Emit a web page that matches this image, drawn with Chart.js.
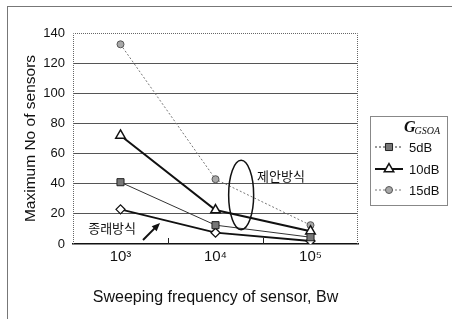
<!DOCTYPE html>
<html>
<head>
<meta charset="utf-8">
<script src="https://cdn.jsdelivr.net/npm/chart.js@4"></script>
<style>
  html, body { margin: 0; padding: 0; background: #fff; }
  #wrap { position: relative; width: 452px; height: 319px; }
  #frame { position: absolute; left: 7px; top: 6px; right: 0; bottom: 0;
           border-left: 1px solid #777; border-top: 1px solid #777; }
  canvas { position: absolute; left: 0; top: 0; }
</style>
</head>
<body>
<div id="wrap">
  <div id="frame"></div>
  <canvas id="c" width="452" height="319"></canvas>
</div>
<script>
// ---------- Data ----------
const categories = ["10³", "10⁴", "10⁵"];
const yTicks = [0, 20, 40, 60, 80, 100, 120, 140];
const gain5 = [41, 12.5, 4.5];
const gain10 = [72, 22.5, 8.5];
const gain15 = [132.5, 43, 12.5];
const conventional = [23, 7.5, 2];
const legendTitle = "G";
const legendSub = "GSOA";
const proposedLabel = "제안방식";
const conventionalLabel = "종래방식";

const FONT = "'Liberation Sans', Arial, sans-serif";
const KFONT = "'Noto Sans CJK KR', sans-serif";

// ---------- Extra drawing: plot border, legend, annotations ----------
const decor = {
  id: "decor",
  beforeDatasetsDraw(chart) {
    const { ctx, chartArea: a, scales: { x } } = chart;
    ctx.save();
    // dotted plot border (left, top, right)
    ctx.strokeStyle = "#666";
    ctx.lineWidth = 1;
    ctx.setLineDash([1, 1]);
    ctx.beginPath();
    ctx.moveTo(a.left + 0.5, a.bottom);
    ctx.lineTo(a.left + 0.5, a.top + 0.5);
    ctx.lineTo(a.right - 0.5, a.top + 0.5);
    ctx.lineTo(a.right - 0.5, a.bottom);
    ctx.stroke();
    ctx.setLineDash([]);
    // inside category ticks on bottom axis
    ctx.strokeStyle = "#222";
    for (let i = 0; i < categories.length - 1; i++) {
      const px = Math.round((x.getPixelForTick(i) + x.getPixelForTick(i + 1)) / 2) + 0.5;
      ctx.beginPath();
      ctx.moveTo(px, a.bottom);
      ctx.lineTo(px, a.bottom - 6);
      ctx.stroke();
    }
    ctx.restore();
  },
  afterDraw(chart) {
    const { ctx, scales: { x, y } } = chart;
    ctx.save();
    // ellipse around proposed points
    ctx.strokeStyle = "#111";
    ctx.lineWidth = 1.5;
    const ex = x.getPixelForValue(1.27), ey = y.getPixelForValue(32.5);
    const ry = (y.getPixelForValue(9) - y.getPixelForValue(55)) / 2;
    ctx.beginPath();
    ctx.ellipse(ex, ey, 12.5, ry, 0, 0, Math.PI * 2);
    ctx.stroke();
    // labels
    ctx.fillStyle = "#111";
    ctx.font = "13px " + KFONT;
    ctx.textBaseline = "middle";
    ctx.textAlign = "left";
    ctx.fillText(proposedLabel, x.getPixelForValue(1.437), y.getPixelForValue(45));
    ctx.fillText(conventionalLabel, x.getPixelForValue(-0.34), y.getPixelForValue(10.6));
    // arrow
    const x1 = x.getPixelForValue(0.237), y1 = y.getPixelForValue(2.7);
    const x2 = x.getPixelForValue(0.416), y2 = y.getPixelForValue(14);
    ctx.lineWidth = 2;
    ctx.beginPath();
    ctx.moveTo(x1, y1);
    ctx.lineTo(x2 - 4, y2 + 4);
    ctx.stroke();
    const ang = Math.atan2(y2 - y1, x2 - x1);
    ctx.beginPath();
    ctx.moveTo(x2, y2);
    ctx.lineTo(x2 - 9 * Math.cos(ang - 0.4), y2 - 9 * Math.sin(ang - 0.4));
    ctx.lineTo(x2 - 9 * Math.cos(ang + 0.4), y2 - 9 * Math.sin(ang + 0.4));
    ctx.closePath();
    ctx.fill();

    // legend box
    const lx = 370, ly = 116, lw = 77, lh = 89;
    ctx.lineWidth = 1;
    ctx.strokeStyle = "#888";
    ctx.strokeRect(lx + 0.5, ly + 0.5, lw, lh);
    ctx.fillStyle = "#111";
    ctx.textAlign = "left";
    ctx.font = "italic bold 16px 'Liberation Serif', serif";
    ctx.fillText(legendTitle, 404, 128);
    const gw = ctx.measureText(legendTitle).width;
    ctx.font = "italic 10px 'Liberation Serif', serif";
    ctx.fillText(legendSub, 404 + gw - 1, 131);
    const rowsY = [147, 169, 190];
    chart.data.datasets.slice(0, 3).forEach((ds, i) => {
      const ry2 = rowsY[i];
      ctx.strokeStyle = ds.borderColor;
      ctx.lineWidth = ds.borderWidth;
      ctx.setLineDash(ds.legendDash || []);
      ctx.beginPath();
      ctx.moveTo(375, ry2);
      ctx.lineTo(403, ry2);
      ctx.stroke();
      ctx.setLineDash([]);
      ctx.fillStyle = ds.pointBackgroundColor;
      ctx.strokeStyle = ds.pointBorderColor;
      ctx.lineWidth = ds.pointBorderWidth;
      Chart.helpers.drawPoint(ctx, {
        pointStyle: ds.pointStyle, radius: ds.pointRadius, rotation: 0,
        borderWidth: ds.pointBorderWidth
      }, 389, ry2);
      ctx.fillStyle = "#111";
      ctx.font = "13px " + FONT;
      ctx.textBaseline = "middle";
      ctx.fillText(ds.label, 409, ry2 + 1);
    });
    ctx.restore();
  }
};

new Chart(document.getElementById("c"), {
  type: "line",
  data: {
    labels: categories,
    datasets: [
      {
        label: "5dB", data: gain5,
        borderColor: "#333", borderWidth: 1, legendDash: [2, 2],
        pointStyle: "rect", pointRadius: 5,
        pointBackgroundColor: "#777", pointBorderColor: "#222", pointBorderWidth: 1
      },
      {
        label: "10dB", data: gain10,
        borderColor: "#111", borderWidth: 2,
        pointStyle: "triangle", pointRadius: 5.5,
        pointBackgroundColor: "#fff", pointBorderColor: "#111", pointBorderWidth: 1.5
      },
      {
        label: "15dB", data: gain15,
        borderColor: "#777", borderWidth: 1, borderDash: [2, 2], legendDash: [2, 2],
        pointStyle: "circle", pointRadius: 3.5,
        pointBackgroundColor: "#a8a8a8", pointBorderColor: "#555", pointBorderWidth: 1
      },
      {
        label: conventionalLabel, data: conventional,
        borderColor: "#111", borderWidth: 1.8,
        pointStyle: "rectRot", pointRadius: 4.5,
        pointBackgroundColor: "#fff", pointBorderColor: "#111", pointBorderWidth: 1.3
      }
    ]
  },
  options: {
    responsive: false,
    animation: false,
    layout: { padding: { left: 0, top: 33, right: 94, bottom: 0 } },
    plugins: { legend: { display: false }, tooltip: { enabled: false } },
    elements: { line: { tension: 0 } },
    scales: {
      x: {
        offset: true,
        grid: { display: false, drawTicks: false },
        border: { display: true, color: "#111", width: 1.5 },
        ticks: { color: "#111", font: { family: FONT, size: 15 }, padding: 4, maxRotation: 0 },
        title: { display: true, text: "Sweeping frequency of sensor, Bw", color: "#111",
                 font: { family: FONT, size: 16 }, padding: { top: 0, bottom: 12 } },
        afterFit: s => { s.height = 75; }
      },
      y: {
        min: 0, max: 140,
        afterBuildTicks: s => { s.ticks = yTicks.map(v => ({ value: v })); },
        grid: {
          drawTicks: false,
          color: c => (c.tick && (c.tick.value === 140 || c.tick.value === 0)) ? "rgba(0,0,0,0)" : "#555",
          lineWidth: 1
        },
        border: { display: false },
        ticks: { color: "#111", font: { family: FONT, size: 13 }, padding: 8 },
        title: { display: true, text: "Maximum No of sensors", color: "#111",
                 font: { family: FONT, size: 15.5 }, padding: { top: 21, bottom: 0 } },
        afterFit: s => { s.width = 73; }
      }
    }
  },
  plugins: [decor]
});
</script>
</body>
</html>
